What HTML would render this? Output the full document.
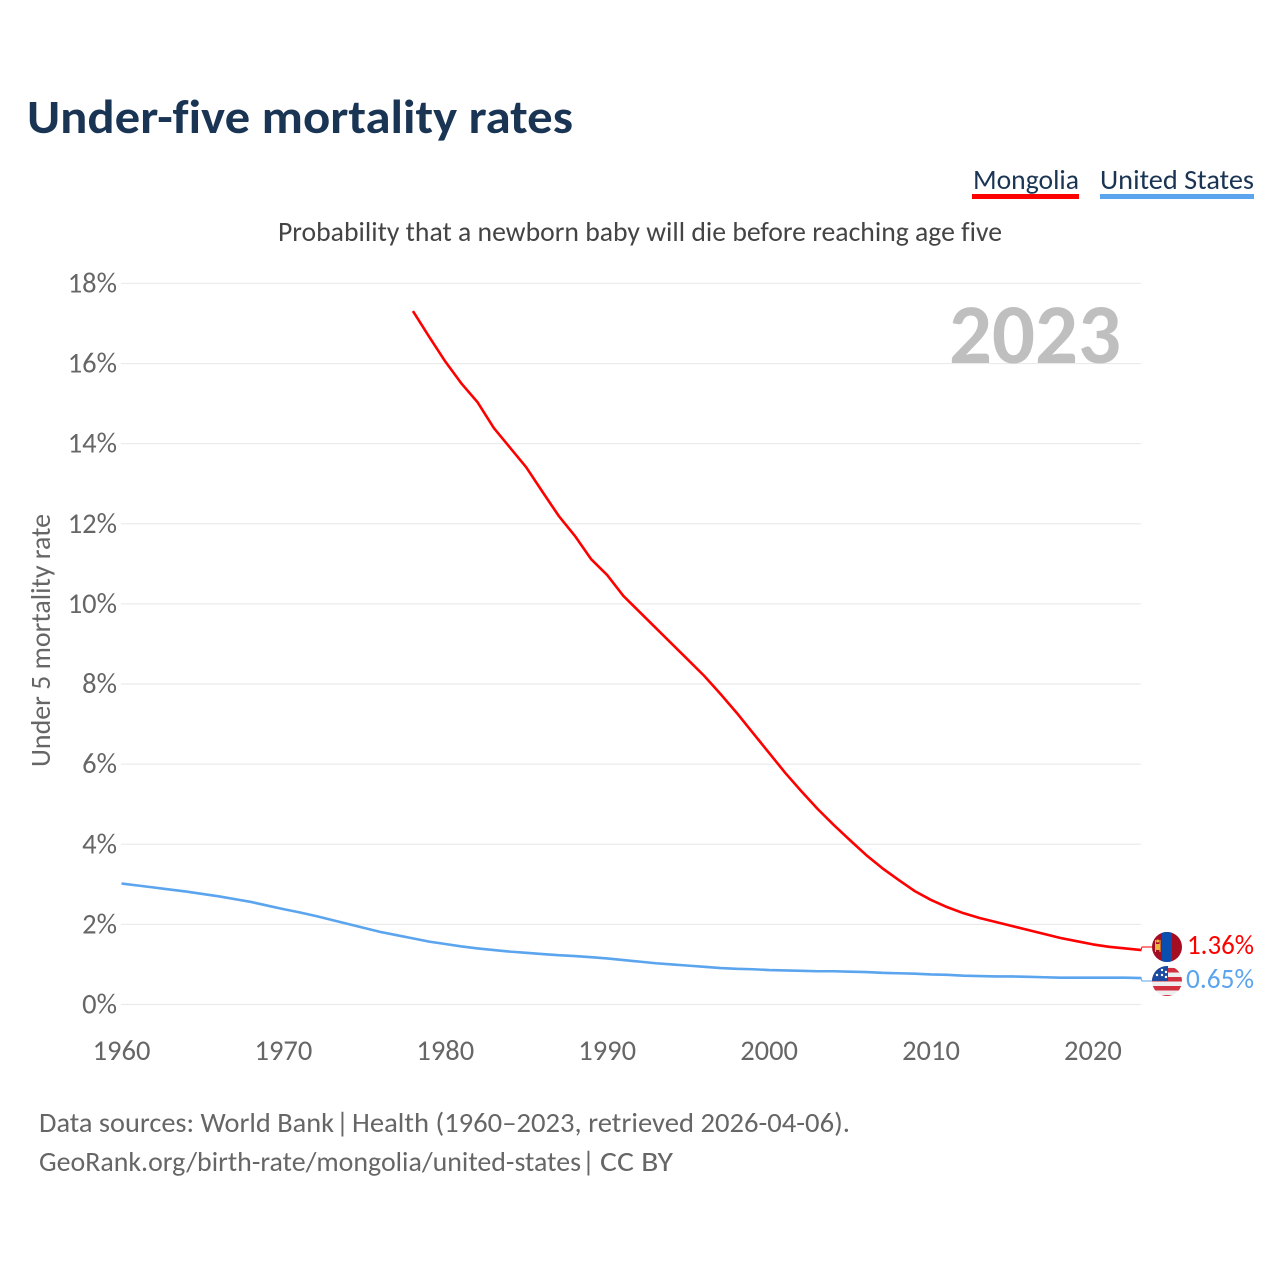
<!DOCTYPE html>
<html lang="en">
<head>
<meta charset="utf-8">
<title>Under-five mortality rates</title>
<style>
html,body{margin:0;padding:0;background:#fff;width:1280px;height:1280px;overflow:hidden}
svg{display:block;font-family:"Carlito","Lato","Liberation Sans",sans-serif;font-variant-ligatures:none}
</style>
</head>
<body>
<svg id="chart" width="1280" height="1280" viewBox="0 0 1280 1280" xmlns="http://www.w3.org/2000/svg">
  <defs>
    <clipPath id="flag-clip-mn"><circle cx="1167" cy="947" r="15"/></clipPath>
    <clipPath id="flag-clip-us"><circle cx="1167" cy="981" r="15"/></clipPath>
  </defs>
  <rect width="1280" height="1280" fill="#fff"/>
  <text x="27" y="133" font-size="48" font-weight="700" fill="#1a3454" textLength="546" lengthAdjust="spacingAndGlyphs">Under-five mortality rates</text>
  <g>
    <text x="973" y="189" font-size="28" fill="#1a3454" textLength="106" lengthAdjust="spacingAndGlyphs">Mongolia</text>
    <rect x="972" y="194" width="107" height="5" fill="#ff0000"/>
  </g>
  <g>
    <text x="1100" y="189" font-size="28" fill="#1a3454" textLength="154" lengthAdjust="spacingAndGlyphs">United States</text>
    <rect x="1100" y="194" width="154" height="5" fill="#5ba4ee"/>
  </g>
  <text x="278" y="241" font-size="28" fill="#444" textLength="724" lengthAdjust="spacingAndGlyphs">Probability that a newborn baby will die before reaching age five</text>
  <g id="grid"></g>
  <g id="y-ticks"></g>
  <g id="x-ticks"></g>
  <text transform="translate(50 767) rotate(-90)" font-size="28" fill="#666" textLength="253" lengthAdjust="spacingAndGlyphs">Under 5 mortality rate</text>
  <text x="949" y="363" font-size="85" font-weight="700" fill="#bfbfbf" textLength="172" lengthAdjust="spacingAndGlyphs">2023</text>
  <g id="series"></g>
  <g clip-path="url(#flag-clip-mn)">
    <rect x="1152" y="932" width="30" height="30" fill="#a50d22"/>
    <rect x="1162" y="932" width="10" height="30" fill="#0a4fb0"/>
    <rect x="1155" y="940" width="1" height="12" fill="#e8b93c"/>
    <rect x="1159.5" y="940" width="1" height="12" fill="#e8b93c"/>
    <rect x="1156" y="944" width="3.5" height="6" fill="#e8b93c"/>
    <circle cx="1157.7" cy="941" r="1.5" fill="#e8b93c"/>
  </g>
  <g clip-path="url(#flag-clip-us)">
    <rect x="1152" y="966" width="30" height="30" fill="#eeeeee"/>
    <rect x="1152" y="968" width="30" height="4.5" fill="#d32f3f"/>
    <rect x="1152" y="977" width="30" height="4.5" fill="#d32f3f"/>
    <rect x="1152" y="986" width="30" height="4.5" fill="#d32f3f"/>
    <rect x="1152" y="995" width="30" height="4.5" fill="#d32f3f"/>
    <rect x="1152" y="966" width="16" height="15" fill="#1a4ba0"/>
    <circle cx="1157" cy="975" r="1.2" fill="#fff"/><circle cx="1162" cy="975" r="1.2" fill="#fff"/><circle cx="1162" cy="970" r="1.2" fill="#fff"/><circle cx="1166" cy="972" r="1.2" fill="#fff"/><circle cx="1166" cy="977" r="1.2" fill="#fff"/>
  </g>
  <text x="1187" y="954" font-size="28" fill="#ff0000" textLength="67" lengthAdjust="spacingAndGlyphs">1.36%</text>
  <text x="1186" y="988" font-size="28" fill="#5ba4ee" textLength="68" lengthAdjust="spacingAndGlyphs">0.65%</text>
  <g font-size="28" fill="#666">
    <text x="39" y="1132" textLength="295" lengthAdjust="spacingAndGlyphs">Data sources: World Bank</text>
    <text x="336" y="1132">|</text>
    <text x="352" y="1132" textLength="498" lengthAdjust="spacingAndGlyphs">Health (1960–2023, retrieved 2026-04-06).</text>
  </g>
  <g font-size="28" fill="#666">
    <text x="39" y="1171" textLength="542" lengthAdjust="spacingAndGlyphs">GeoRank.org/birth-rate/mongolia/united-states</text>
    <text x="582" y="1171">|</text>
    <text x="600" y="1171" textLength="73" lengthAdjust="spacingAndGlyphs">CC BY</text>
  </g>
</svg>
<script>
const yTickValues = [0, 2, 4, 6, 8, 10, 12, 14, 16, 18];
const xTickYears = [1960, 1970, 1980, 1990, 2000, 2010, 2020];
const mongoliaStartYear = 1978;
const mongoliaValues = [17.31, 16.67, 16.05, 15.5, 15.03, 14.39, 13.9, 13.41, 12.8, 12.2, 11.7, 11.12, 10.72, 10.2, 9.8, 9.4, 9.0, 8.6, 8.2, 7.75, 7.28, 6.78, 6.28, 5.78, 5.32, 4.88, 4.48, 4.1, 3.73, 3.4, 3.11, 2.83, 2.61, 2.43, 2.28, 2.16, 2.06, 1.96, 1.86, 1.76, 1.66, 1.58, 1.5, 1.44, 1.4, 1.36];
const usStartYear = 1960;
const usValues = [3.02, 2.97, 2.92, 2.87, 2.82, 2.76, 2.70, 2.63, 2.56, 2.47, 2.38, 2.30, 2.21, 2.11, 2.01, 1.91, 1.81, 1.73, 1.65, 1.57, 1.51, 1.45, 1.40, 1.36, 1.32, 1.29, 1.26, 1.23, 1.21, 1.18, 1.15, 1.11, 1.07, 1.03, 1.00, 0.97, 0.94, 0.91, 0.89, 0.88, 0.86, 0.85, 0.84, 0.83, 0.83, 0.82, 0.81, 0.79, 0.78, 0.77, 0.75, 0.74, 0.72, 0.71, 0.70, 0.70, 0.69, 0.68, 0.67, 0.67, 0.67, 0.67, 0.67, 0.66];

const NS = 'http://www.w3.org/2000/svg';
const xScale = function (year) { return 121.5 + (year - 1960) * 16.19; };
const yScale = function (v) { return 1004.5 - v * 40.06; };

function make(tag, attrs, parent, text) {
  const el = document.createElementNS(NS, tag);
  Object.keys(attrs).forEach(function (k) { el.setAttribute(k, attrs[k]); });
  if (text !== undefined) el.textContent = text;
  parent.appendChild(el);
  return el;
}

const gridGroup = document.getElementById('grid');
const yTickGroup = document.getElementById('y-ticks');
const xTickGroup = document.getElementById('x-ticks');
const seriesGroup = document.getElementById('series');

yTickValues.forEach(function (v) {
  const line = make('line', { x1: 121, x2: 1141, y1: yScale(v), y2: yScale(v), stroke: '#ebebeb', 'stroke-width': 1.2 }, gridGroup);
  
  
  const label = make('text', { x: 117, y: yScale(v) + 9, 'text-anchor': 'end', 'font-size': 28.5, fill: '#666' }, yTickGroup, v + '%');
  
  
});

xTickYears.forEach(function (year) {
  const label = make('text', { x: xScale(year), y: 1060, 'text-anchor': 'middle', 'font-size': 28.5, fill: '#666' }, xTickGroup, String(year));
  
  
});

function pathFrom(startYear, values) {
  return values.map(function (v, i) {
    return (i ? 'L' : 'M') + xScale(startYear + i).toFixed(2) + ' ' + yScale(v).toFixed(2);
  }).join(' ');
}

const usLine = make('path', { d: pathFrom(usStartYear, usValues), fill: 'none', stroke: '#5ba4ee', 'stroke-width': 2.6, 'stroke-linejoin': 'round' }, seriesGroup);



const mnLine = make('path', { d: pathFrom(mongoliaStartYear, mongoliaValues), fill: 'none', stroke: '#ff0000', 'stroke-width': 2.6, 'stroke-linejoin': 'round' }, seriesGroup);



const mnEndY = yScale(mongoliaValues[mongoliaValues.length - 1]);
const usEndY = yScale(usValues[usValues.length - 1]);
const mnLeader = make('path', { d: 'M1141 ' + mnEndY + ' L1142 947 L1152 947', fill: 'none', stroke: '#ff0000', 'stroke-width': 1 }, seriesGroup);


const usLeader = make('path', { d: 'M1141 ' + usEndY + ' L1142 981 L1152 981', fill: 'none', stroke: '#5ba4ee', 'stroke-width': 1 }, seriesGroup);


</script>
</body>
</html>
